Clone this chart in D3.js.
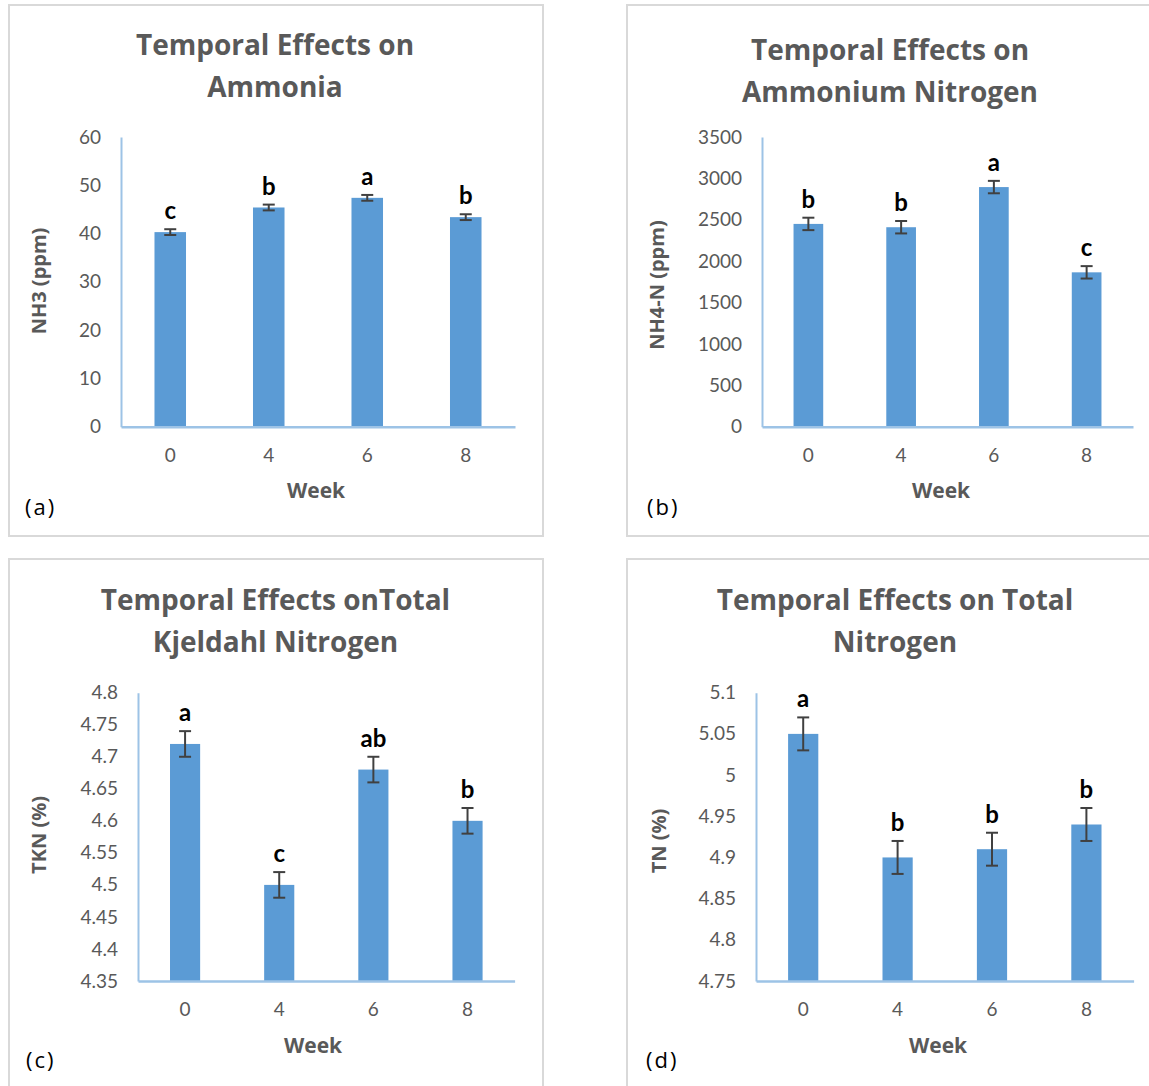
<!DOCTYPE html>
<html>
<head>
<meta charset="utf-8">
<script src="https://cdn.jsdelivr.net/npm/d3@7"></script>
<style>
  html, body { margin: 0; padding: 0; background: #ffffff; }
  svg { display: block; }
</style>
</head>
<body>
<svg id="chart" width="1149" height="1086" font-family="Lato, 'Open Sans', sans-serif"></svg>
<script>
// ---------------- data ----------------
const weeks = ["0", "4", "6", "8"];

const nh3Values  = [40.3, 45.4, 47.4, 43.4];
const nh3Errors  = [0.6, 0.6, 0.6, 0.6];
const nh3Letters = ["c", "b", "a", "b"];
const nh3Ticks   = ["0", "10", "20", "30", "40", "50", "60"];

const nh4Values  = [2450, 2410, 2895, 1865];
const nh4Errors  = [75, 75, 75, 75];
const nh4Letters = ["b", "b", "a", "c"];
const nh4Ticks   = ["0", "500", "1000", "1500", "2000", "2500", "3000", "3500"];

const tknValues  = [4.72, 4.50, 4.68, 4.60];
const tknErrors  = [0.02, 0.02, 0.02, 0.02];
const tknLetters = ["a", "c", "ab", "b"];
const tknTicks   = ["4.35", "4.4", "4.45", "4.5", "4.55", "4.6", "4.65", "4.7", "4.75", "4.8"];

const tnValues  = [5.05, 4.90, 4.91, 4.94];
const tnErrors  = [0.02, 0.02, 0.02, 0.02];
const tnLetters = ["a", "b", "b", "b"];
const tnTicks   = ["4.75", "4.8", "4.85", "4.9", "4.95", "5", "5.05", "5.1"];

const titles = [
  ["Temporal Effects on", "Ammonia"],
  ["Temporal Effects on", "Ammonium Nitrogen"],
  ["Temporal Effects onTotal", "Kjeldahl Nitrogen"],
  ["Temporal Effects on Total", "Nitrogen"]
];
const yTitles = ["NH3 (ppm)", "NH4-N (ppm)", "TKN (%)", "TN (%)"];
const xTitle = "Week";
const panelTags = ["(a)", "(b)", "(c)", "(d)"];

// ---------------- layout ----------------
const panels = [
  { values: nh3Values, errors: nh3Errors, letters: nh3Letters, ticks: nh3Ticks,
    frame: [9, 5, 534, 531], x0: 121, x1: 515, yTop: 137, yBot: 426.7,
    titleX: 275, titleY: 55, yTitleX: 39, yTitleY: 281, weekX: 316, weekY: 498, tagX: 25, tagY: 515 },
  { values: nh4Values, errors: nh4Errors, letters: nh4Letters, ticks: nh4Ticks,
    frame: [627, 5, 560, 531], x0: 762, x1: 1133, yTop: 137, yBot: 426.7,
    titleX: 890, titleY: 60, yTitleX: 657, yTitleY: 285, weekX: 941, weekY: 498, tagX: 647, tagY: 515 },
  { values: tknValues, errors: tknErrors, letters: tknLetters, ticks: tknTicks,
    frame: [9, 559, 534, 560], x0: 138, x1: 514.6, yTop: 692.7, yBot: 981,
    titleX: 275.5, titleY: 610, yTitleX: 38.5, yTitleY: 835, weekX: 313, weekY: 1053, tagX: 26, tagY: 1068 },
  { values: tnValues, errors: tnErrors, letters: tnLetters, ticks: tnTicks,
    frame: [627, 559, 560, 560], x0: 756, x1: 1133.6, yTop: 692.7, yBot: 981,
    titleX: 895, titleY: 610, yTitleX: 659, yTitleY: 841, weekX: 938, weekY: 1053, tagX: 646, tagY: 1068 }
];

const barColor = "#5b9bd5";
const axisColor = "#9dc3e6";
const textGray = "#595959";
const errColor = "#404040";
const boldFont = "'Open Sans', Lato, sans-serif";
const tickFont = "Lato, 'Open Sans', sans-serif";

const svg = d3.select("#chart");

panels.forEach((p, i) => {
  const g = svg.append("g");

  // frame
  g.append("rect")
    .attr("x", p.frame[0]).attr("y", p.frame[1])
    .attr("width", p.frame[2]).attr("height", p.frame[3])
    .attr("fill", "none").attr("stroke", "#d9d9d9").attr("stroke-width", 2);

  const tickVals = p.ticks.map(Number);
  const y = d3.scaleLinear()
    .domain([tickVals[0], tickVals[tickVals.length - 1]])
    .range([p.yBot, p.yTop]);
  const x = d3.scaleBand().domain(weeks).range([p.x0, p.x1]).paddingInner(0.68).paddingOuter(0.34);

  // title
  const t = g.append("text")
    .attr("text-anchor", "middle")
    .attr("fill", textGray)
    .style("font-family", boldFont)
    .style("font-weight", 700)
    .style("font-size", "28px");
  titles[i].forEach((line, k) => {
    t.append("tspan").attr("x", p.titleX).attr("y", p.titleY + k * 41.5).text(line);
  });

  // bars
  g.selectAll("rect.bar").data(p.values).join("rect")
    .attr("class", "bar")
    .attr("x", (d, j) => x(weeks[j]))
    .attr("width", x.bandwidth())
    .attr("y", d => y(d))
    .attr("height", d => p.yBot - y(d))
    .attr("fill", barColor);

  // axes
  const yAxis = d3.axisLeft(y).tickValues(tickVals).tickSize(0).tickPadding(20)
    .tickFormat((d, j) => p.ticks[j]);
  const ya = g.append("g").attr("transform", `translate(${p.x0},0)`).call(yAxis);
  ya.select(".domain").attr("stroke", axisColor).attr("stroke-width", 2);
  ya.selectAll("text").attr("fill", textGray)
    .style("font-size", "19px").style("font-family", tickFont);

  const xAxis = d3.axisBottom(x).tickSize(0).tickPadding(22);
  const xa = g.append("g").attr("transform", `translate(0,${p.yBot})`).call(xAxis);
  xa.select(".domain").attr("stroke", axisColor).attr("stroke-width", 2.5);
  xa.selectAll("text").attr("fill", textGray)
    .style("font-size", "19px").style("font-family", tickFont);

  // error bars
  const cx = (j) => x(weeks[j]) + x.bandwidth() / 2;
  const eg = g.append("g").attr("stroke", errColor).attr("stroke-width", 2).attr("fill", "none");
  p.values.forEach((v, j) => {
    const e = p.errors[j];
    eg.append("line").attr("x1", cx(j)).attr("x2", cx(j)).attr("y1", y(v - e)).attr("y2", y(v + e));
    eg.append("line").attr("x1", cx(j) - 6).attr("x2", cx(j) + 6).attr("y1", y(v - e)).attr("y2", y(v - e));
    eg.append("line").attr("x1", cx(j) - 6).attr("x2", cx(j) + 6).attr("y1", y(v + e)).attr("y2", y(v + e));
  });

  // significance letters
  g.selectAll("text.letter").data(p.letters).join("text")
    .attr("class", "letter")
    .attr("x", (d, j) => cx(j))
    .attr("y", (d, j) => y(p.values[j] + p.errors[j]) - 10)
    .attr("text-anchor", "middle")
    .style("font-family", tickFont)
    .style("font-weight", 700)
    .style("font-size", "24px")
    .attr("fill", "#000")
    .text(d => d);

  // y axis title
  g.append("text")
    .attr("transform", `translate(${p.yTitleX},${p.yTitleY}) rotate(-90)`)
    .attr("dy", "0.35em")
    .attr("text-anchor", "middle")
    .style("font-family", boldFont)
    .style("font-weight", 700)
    .style("font-size", "20px")
    .attr("fill", textGray)
    .text(yTitles[i]);

  // x axis title
  g.append("text")
    .attr("x", p.weekX).attr("y", p.weekY)
    .attr("text-anchor", "middle")
    .style("font-family", boldFont)
    .style("font-weight", 700)
    .style("font-size", "21px")
    .attr("fill", textGray)
    .text(xTitle);

  // panel tag
  g.append("text")
    .attr("x", p.tagX).attr("y", p.tagY)
    .style("font-family", boldFont)
    .style("font-size", "22px")
    .style("letter-spacing", "2px")
    .attr("fill", "#000")
    .text(panelTags[i]);
});
</script>
</body>
</html>
